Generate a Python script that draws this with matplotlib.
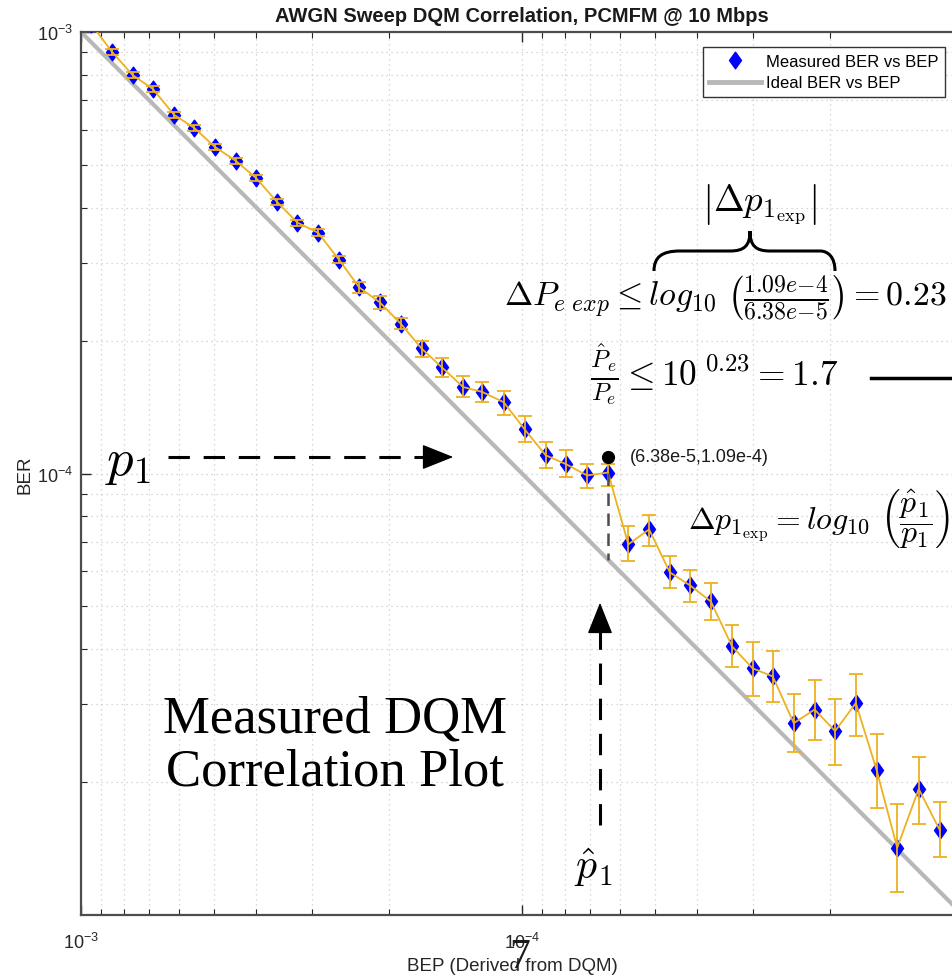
import numpy as np
import matplotlib
matplotlib.use('Agg')
import matplotlib.pyplot as plt
from matplotlib.ticker import LogLocator, NullFormatter, FixedLocator, FuncFormatter
from matplotlib.path import Path
from matplotlib.patches import PathPatch, FancyArrowPatch
from matplotlib.lines import Line2D
from matplotlib.transforms import Affine2D

plt.rcParams['font.family'] = ['Liberation Sans', 'DejaVu Sans']
plt.rcParams['mathtext.fontset'] = 'custom'
plt.rcParams['mathtext.rm'] = 'Liberation Sans'
plt.rcParams['mathtext.it'] = 'Liberation Sans:italic'
plt.rcParams['mathtext.bf'] = 'Liberation Sans:bold'
plt.rcParams['mathtext.default'] = 'it'

# ---------------- data ----------------
bep = [9.47e-4, 8.50e-4, 7.64e-4, 6.87e-4, 6.15e-4, 5.53e-4, 4.97e-4, 4.46e-4,
       4.01e-4, 3.59e-4, 3.23e-4, 2.90e-4, 2.60e-4, 2.34e-4, 2.10e-4, 1.88e-4,
       1.69e-4, 1.52e-4, 1.36e-4, 1.23e-4, 1.10e-4, 9.87e-5, 8.84e-5, 7.95e-5,
       7.12e-5, 6.38e-5, 5.74e-5, 5.15e-5, 4.62e-5, 4.16e-5, 3.73e-5, 3.34e-5,
       3.00e-5, 2.70e-5, 2.42e-5, 2.17e-5, 1.95e-5, 1.75e-5, 1.57e-5, 1.41e-5,
       1.26e-5, 1.13e-5]
ber = [1.04e-3, 9.01e-4, 7.99e-4, 7.43e-4, 6.49e-4, 6.06e-4, 5.49e-4, 5.11e-4,
       4.67e-4, 4.12e-4, 3.70e-4, 3.51e-4, 3.05e-4, 2.64e-4, 2.44e-4, 2.18e-4,
       1.92e-4, 1.74e-4, 1.57e-4, 1.53e-4, 1.45e-4, 1.26e-4, 1.10e-4, 1.05e-4,
       9.90e-5, 1.005e-4, 6.91e-5, 7.47e-5, 5.97e-5, 5.58e-5, 5.13e-5, 4.06e-5,
       3.62e-5, 3.47e-5, 2.72e-5, 2.92e-5, 2.61e-5, 3.02e-5, 2.13e-5, 1.42e-5,
       1.93e-5, 1.56e-5]
ber_low = [1.02e-3, 8.87e-4, 7.86e-4, 7.31e-4, 6.39e-4, 5.96e-4, 5.40e-4, 5.03e-4,
           4.60e-4, 4.05e-4, 3.64e-4, 3.45e-4, 2.99e-4, 2.57e-4, 2.36e-4, 2.13e-4,
           1.84e-4, 1.65e-4, 1.49e-4, 1.45e-4, 1.36e-4, 1.18e-4, 1.03e-4, 9.84e-5,
           9.25e-5, 9.35e-5, 6.32e-5, 6.84e-5, 5.49e-5, 5.11e-5, 4.65e-5, 3.64e-5,
           3.13e-5, 3.03e-5, 2.34e-5, 2.49e-5, 2.19e-5, 2.55e-5, 1.75e-5, 1.13e-5,
           1.61e-5, 1.35e-5]
ber_high = [1.06e-3, 9.15e-4, 8.12e-4, 7.55e-4, 6.59e-4, 6.16e-4, 5.58e-4, 5.19e-4,
            4.74e-4, 4.19e-4, 3.76e-4, 3.57e-4, 3.11e-4, 2.71e-4, 2.52e-4, 2.25e-4,
            2.00e-4, 1.83e-4, 1.66e-4, 1.61e-4, 1.54e-4, 1.35e-4, 1.18e-4, 1.13e-4,
            1.05e-4, 1.05e-4, 7.59e-5, 8.04e-5, 6.49e-5, 6.06e-5, 5.64e-5, 4.53e-5,
            4.15e-5, 3.96e-5, 3.16e-5, 3.40e-5, 3.08e-5, 3.51e-5, 2.57e-5, 1.78e-5,
            2.28e-5, 1.80e-5]
ideal_bep = [1e-3, 1e-5]
ideal_ber = [1e-3, 1e-5]
p1_hat = 6.38e-5
p1 = 1.09e-4
xticks = [1e-3, 1e-4]
yticks = [1e-3, 1e-4]

# ---------------- figure ----------------
W, H = 952, 979
fig = plt.figure(figsize=(W / 100, H / 100), dpi=100)

def P(x, y):
    return (x / W, 1 - y / H)

ax = fig.add_axes([81 / W, 1 - 916 / H, (963 - 81) / W, (916 - 33) / H])
ax.set_xscale('log')
ax.set_yscale('log')
ax.set_xlim(1e-3, 1e-5)
ax.set_ylim(1e-5, 1e-3)

ax.xaxis.set_major_locator(FixedLocator(xticks))
ax.yaxis.set_major_locator(FixedLocator(yticks))
for a in (ax.xaxis, ax.yaxis):
    a.set_minor_locator(LogLocator(base=10, subs=np.arange(2, 10), numticks=20))
    a.set_minor_formatter(NullFormatter())
    a.set_major_formatter(FuncFormatter(lambda v, pos: r'$10^{%d}$' % int(round(np.log10(v)))))

ax.tick_params(which='both', direction='in', top=True, right=True, colors='0.15',
               labelsize=13, labelcolor='0.15')
ax.tick_params(which='major', length=7, width=1)
ax.tick_params(which='minor', length=4, width=0.8)
ax.tick_params(axis='x', pad=12)
ax.tick_params(axis='y', pad=6)
for s in ax.spines.values():
    s.set_color('0.3')
    s.set_linewidth(1.6)

ax.grid(True, which='both', linestyle=(0, (1, 3)), color='0.8', linewidth=0.9)
ax.set_axisbelow(True)

diamond = Path([(0, 1), (0.72, 0), (0, -1), (-0.72, 0), (0, 1)],
               [Path.MOVETO, Path.LINETO, Path.LINETO, Path.LINETO, Path.CLOSEPOLY])

# ideal line
ax.plot(ideal_bep, ideal_ber, color='0.72', lw=3.0, zorder=2)

# measured
ax.plot(bep, ber, linestyle='none', marker=diamond, ms=12, color='blue', mec='blue',
        zorder=3)
b = np.array(ber)
yerr = [b - np.array(ber_low), np.array(ber_high) - b]
ax.errorbar(bep, ber, yerr=yerr, fmt='-', color='#EDB120', lw=1.3, elinewidth=1.3,
            capsize=5, capthick=1.3, zorder=4)

ax.set_title('AWGN Sweep DQM Correlation, PCMFM @ 10 Mbps', fontsize=14.5,
             fontweight='bold', color='0.1', pad=8)
ax.set_xlabel('BEP (Derived from DQM)', fontsize=13.5, color='0.15')
ax.xaxis.set_label_coords((512 - 81) / 882, -(958 - 916) / 883)
ax.set_ylabel('BER', fontsize=13.5, color='0.15', labelpad=2)

handles = [Line2D([], [], linestyle='none', marker=diamond, ms=12, color='blue'),
           Line2D([], [], color='0.72', lw=3.5)]
leg = ax.legend(handles, ['Measured BER vs BEP', 'Ideal BER vs BEP'],
                loc='upper right', bbox_to_anchor=P(945, 48),
                bbox_transform=fig.transFigure, fontsize=12, frameon=True,
                fancybox=False, edgecolor='0.2', framealpha=1, borderpad=0.4,
                labelspacing=0.4, handlelength=3.1, handletextpad=0.3,
                borderaxespad=0)
leg.get_frame().set_linewidth(1.0)

# ---------------- annotations ----------------
ax.plot([p1_hat], [p1], 'o', color='black', ms=8.5, zorder=6)
ax.annotate('(6.38e-5,1.09e-4)', xy=(p1_hat, p1), xytext=(22, 0),
            textcoords='offset pixels', fontsize=13, va='center', ha='left', color='0.1')
ax.plot([p1_hat, p1_hat], [ber[25], p1_hat], color='0.3', lw=1.8,
        linestyle=(0, (5, 3)), zorder=5)

# p1 horizontal dashed arrow
fig.add_artist(Line2D([168 / W, 437 / W], [1 - 458 / H, 1 - 458 / H], color='black',
                      lw=2.2, linestyle=(0, (7, 4.5)), transform=fig.transFigure))
fig.add_artist(FancyArrowPatch(P(432, 458), P(456, 458),
                               arrowstyle='-|>,head_length=0.8,head_width=0.32',
                               mutation_scale=25, color='black', lw=1,
                               transform=fig.transFigure))
# p1_hat vertical dashed arrow
fig.add_artist(Line2D([600 / W, 600 / W], [1 - 826 / H, 1 - 618 / H], color='black',
                      lw=2.2, linestyle=(0, (7, 4.5)), transform=fig.transFigure))
fig.add_artist(FancyArrowPatch(P(600, 624), P(600, 601),
                               arrowstyle='-|>,head_length=0.8,head_width=0.32',
                               mutation_scale=25, color='black', lw=1,
                               transform=fig.transFigure))

fig.text(*P(128, 462), r'$p_1$', fontsize=38, ha='center', va='center',
         math_fontfamily='cm')
fig.text(*P(593, 868), r'$\hat{p}_1$', fontsize=30, ha='center', va='center',
         math_fontfamily='cm')
fig.text(*P(335, 746), 'Measured DQM\nCorrelation Plot', fontsize=38,
         family='Liberation Serif', ha='center', va='center', linespacing=1.15)

fig.text(*P(759, 205), r'$\left|\Delta p_{1_{\mathrm{exp}}}\right|$', fontsize=26.5,
         ha='center', va='center', math_fontfamily='cm')
fig.text(*P(725, 298),
         r'$\Delta P_{e\ exp} \leq log_{10}\ \left(\frac{1.09e{-}4}{6.38e{-}5}\right) = 0.23$',
         fontsize=24.4, ha='center', va='center', math_fontfamily='cm')
fig.text(*P(714, 374), r'$\frac{\hat{P}_e}{P_e} \leq 10^{\ 0.23} = 1.7$',
         fontsize=25.5, ha='center', va='center', math_fontfamily='cm')
fig.text(*P(688, 518),
         r'$\Delta p_{1_{\mathrm{exp}}} = log_{10}\ \left(\dfrac{\hat{p}_1}{p_1}\right)$',
         fontsize=23, ha='left', va='center', math_fontfamily='cm')
fig.add_artist(Line2D([871 / W, 952 / W], [1 - 379 / H, 1 - 379 / H], color='black',
                      lw=2.5, transform=fig.transFigure))

# curly brace
brace_px = [(654, 272), (654, 258), (662, 252), (680, 252), (730, 252),
            (744, 252), (750, 247), (750, 232), (750, 247), (756, 252),
            (770, 252), (820, 252), (828, 252), (835, 258), (835, 272)]
codes = [Path.MOVETO, Path.CURVE4, Path.CURVE4, Path.CURVE4, Path.LINETO,
         Path.CURVE4, Path.CURVE4, Path.CURVE4, Path.CURVE4, Path.CURVE4,
         Path.CURVE4, Path.LINETO, Path.CURVE4, Path.CURVE4, Path.CURVE4]
px2fig = Affine2D().scale(1 / W, -1 / H).translate(0, 1) + fig.transFigure
fig.add_artist(PathPatch(Path(brace_px, codes), facecolor='none', edgecolor='black',
                         lw=2.2, transform=px2fig))

# stray glyph
fig.text(*P(520, 958), '7', fontsize=30, family='Liberation Serif', ha='center',
         va='center', color='0.1')

fig.savefig('out.png', dpi=100)
